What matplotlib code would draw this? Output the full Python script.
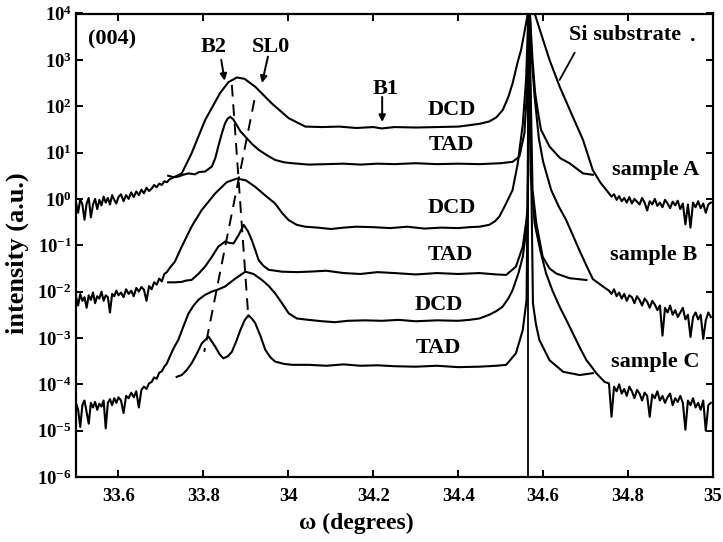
import matplotlib
matplotlib.use("Agg")
import matplotlib.pyplot as plt
import numpy as np

plt.rcParams['font.family'] = ['Liberation Serif', 'DejaVu Serif']
plt.rcParams['font.weight'] = 'bold'
plt.rcParams['mathtext.default'] = 'regular'

# ---------------- data (omega in degrees, log10 intensity) ----------------
x_left_tail = [33.500, 33.505, 33.510, 33.515, 33.520, 33.525, 33.530, 33.535, 33.540, 33.545,
               33.550, 33.555, 33.560, 33.565, 33.570, 33.575, 33.580, 33.585, 33.590, 33.595,
               33.600, 33.606, 33.612, 33.618, 33.624, 33.630, 33.636, 33.642, 33.648, 33.654,
               33.660, 33.666, 33.672, 33.678, 33.684, 33.690, 33.696, 33.702, 33.708, 33.714,
               33.720]
x_right_tail = [34.755, 34.761, 34.767, 34.773, 34.779, 34.785, 34.791, 34.797, 34.803, 34.809,
                34.815, 34.821, 34.827, 34.833, 34.839, 34.845, 34.851, 34.857, 34.863, 34.869,
                34.875, 34.881, 34.887, 34.893, 34.899, 34.905, 34.911, 34.917, 34.923, 34.929,
                34.935, 34.941, 34.947, 34.953, 34.959, 34.965, 34.971, 34.977, 34.983, 34.989,
                34.995]

# sample A, DCD
dcdA_left = [-0.08, -0.30, 0.00, -0.12, -0.45, -0.10, 0.02, -0.40, -0.12, 0.00,
             -0.22, -0.02, -0.14, 0.05, -0.08, 0.02, -0.12, 0.08, -0.02, -0.10,
             0.04, 0.10, -0.05, 0.08, 0.00, 0.14, 0.04, 0.16, 0.08, 0.20,
             0.12, 0.24, 0.17, 0.22, 0.30, 0.25, 0.33, 0.30, 0.38, 0.36, 0.42]
dcdA_core_x = [33.729, 33.749, 33.772, 33.804, 33.839, 33.859, 33.879, 33.897, 33.922, 33.961,
               34.001, 34.040, 34.080, 34.120, 34.160, 34.200, 34.220, 34.250, 34.300, 34.350,
               34.400, 34.426, 34.450, 34.473, 34.490, 34.505, 34.518, 34.528, 34.540, 34.548,
               34.556, 34.564, 34.567, 34.571, 34.580, 34.595, 34.615, 34.639, 34.670, 34.694,
               34.717, 34.735, 34.749]
dcdA_core = [0.46, 0.55, 0.98, 1.70, 2.28, 2.52, 2.62, 2.59, 2.42, 2.06,
             1.74, 1.56, 1.55, 1.56, 1.53, 1.55, 1.52, 1.55, 1.54, 1.55,
             1.56, 1.59, 1.62, 1.67, 1.76, 1.92, 2.20, 2.49, 2.95, 3.21,
             3.60, 4.00, 4.60, 4.30, 4.00, 3.57, 3.00, 2.42, 1.77, 1.27,
             0.62, 0.35, 0.19]
dcdA_right = [0.12, 0.05, 0.10, -0.02, 0.06, -0.05, 0.02, -0.08, 0.04, -0.10,
              0.00, -0.06, -0.12, 0.02, -0.08, -0.25, -0.05, -0.12, 0.00, -0.15,
              -0.08, -0.18, -0.02, -0.10, -0.20, -0.06, -0.14, -0.04, -0.22, -0.10,
              -0.55, -0.12, -0.62, -0.08, -0.18, -0.05, -0.20, -0.10, -0.30, -0.12, -0.08]

# sample A, TAD
tadA_x = [33.717, 33.729, 33.741, 33.752, 33.765, 33.780, 33.790, 33.804, 33.820, 33.828,
          33.835, 33.843, 33.851, 33.857, 33.863, 33.870, 33.878, 33.887, 33.899, 33.915,
          33.930, 33.950, 33.969, 33.990, 34.009, 34.048, 34.090, 34.130, 34.170, 34.210,
          34.250, 34.300, 34.350, 34.400, 34.450, 34.500, 34.528, 34.544, 34.556, 34.563,
          34.567, 34.575, 34.581, 34.587, 34.595, 34.615, 34.640, 34.662, 34.694, 34.717]
tadA = [0.50, 0.47, 0.48, 0.52, 0.55, 0.53, 0.58, 0.59, 0.70, 0.88,
        1.13, 1.40, 1.63, 1.73, 1.77, 1.72, 1.60, 1.46, 1.34, 1.18,
        1.06, 0.94, 0.84, 0.79, 0.77, 0.74, 0.75, 0.76, 0.74, 0.76,
        0.75, 0.77, 0.75, 0.76, 0.75, 0.77, 0.80, 0.91, 1.42, 2.50,
        4.30, 3.00, 2.30, 1.92, 1.49, 1.13, 0.88, 0.77, 0.55, 0.52]

# sample B, DCD
dcdB_left = [-2.10, -2.30, -2.05, -2.20, -2.12, -2.35, -2.08, -2.18, -2.02, -2.25,
             -2.10, -2.15, -2.00, -2.20, -2.08, -2.12, -2.45, -2.05, -2.10, -1.98,
             -2.08, -2.02, -2.12, -1.95, -2.05, -1.98, -2.10, -1.92, -2.00, -1.90,
             -1.96, -2.20, -1.88, -1.95, -1.80, -1.85, -1.72, -1.78, -1.62, -1.58, -1.50]
dcdB_core_x = [33.733, 33.749, 33.772, 33.796, 33.828, 33.855, 33.879, 33.900, 33.922, 33.945,
               33.969, 33.985, 34.001, 34.020, 34.040, 34.070, 34.100, 34.130, 34.160, 34.200,
               34.240, 34.280, 34.320, 34.360, 34.400, 34.426, 34.450, 34.473, 34.487, 34.497,
               34.510, 34.528, 34.540, 34.552, 34.560, 34.567, 34.572, 34.580, 34.590, 34.600,
               34.619, 34.636, 34.654, 34.685, 34.700, 34.717, 34.741]
dcdB_core = [-1.35, -1.03, -0.60, -0.24, 0.12, 0.36, 0.44, 0.40, 0.26, 0.08,
             -0.10, -0.30, -0.46, -0.56, -0.60, -0.62, -0.65, -0.62, -0.60, -0.61,
             -0.63, -0.60, -0.64, -0.62, -0.63, -0.61, -0.60, -0.56, -0.48, -0.38,
             -0.15, 0.19, 0.75, 1.60, 2.60, 4.50, 3.20, 2.20, 1.30, 0.80,
             0.19, -0.15, -0.45, -1.10, -1.40, -1.73, -1.89]
dcdB_right = [-1.98, -2.05, -1.95, -2.10, -2.02, -2.15, -2.05, -2.20, -2.08, -2.12,
              -2.25, -2.10, -2.18, -2.30, -2.15, -2.22, -2.35, -2.20, -2.28, -2.40,
              -2.30, -2.95, -2.35, -2.45, -2.30, -2.50, -2.40, -2.55, -2.45, -2.35,
              -2.60, -2.50, -2.98, -2.55, -2.45, -2.60, -2.50, -3.02, -2.62, -2.45, -2.55]

# sample B, TAD
tadB_x = [33.717, 33.733, 33.749, 33.760, 33.772, 33.788, 33.804, 33.820, 33.835, 33.851,
          33.861, 33.871, 33.883, 33.895, 33.905, 33.914, 33.922, 33.930, 33.942, 33.954,
          33.985, 34.020, 34.048, 34.090, 34.130, 34.170, 34.210, 34.250, 34.300, 34.350,
          34.400, 34.450, 34.490, 34.513, 34.536, 34.552, 34.560, 34.564, 34.567, 34.575,
          34.584, 34.599, 34.615, 34.631, 34.662, 34.702]
tadB = [-1.80, -1.80, -1.79, -1.76, -1.75, -1.62, -1.46, -1.25, -1.03, -0.92,
        -0.95, -0.96, -0.78, -0.56, -0.70, -0.89, -1.10, -1.32, -1.45, -1.53,
        -1.57, -1.58, -1.57, -1.55, -1.60, -1.62, -1.58, -1.60, -1.63, -1.60,
        -1.62, -1.60, -1.63, -1.64, -1.46, -1.03, -0.50, -0.17, 4.20, 0.20,
        -0.53, -1.25, -1.50, -1.61, -1.71, -1.75]

# sample C, DCD
dcdC_left = [-4.40, -4.55, -4.92, -4.45, -4.35, -4.60, -4.85, -4.40, -4.50, -4.38,
             -4.55, -4.42, -4.48, -4.35, -4.95, -4.40, -4.32, -4.45, -4.30, -4.40,
             -4.28, -4.35, -4.62, -4.25, -4.30, -4.18, -4.28, -4.15, -4.50, -4.12,
             -4.05, -4.10, -3.98, -3.95, -3.85, -3.88, -3.75, -3.72, -3.62, -3.55, -3.42]
dcdC_core_x = [33.730, 33.741, 33.753, 33.765, 33.777, 33.788, 33.804, 33.820, 33.836, 33.851,
               33.875, 33.899, 33.918, 33.938, 33.954, 33.969, 33.985, 34.001, 34.020, 34.048,
               34.080, 34.110, 34.140, 34.180, 34.220, 34.260, 34.300, 34.350, 34.400, 34.426,
               34.450, 34.473, 34.490, 34.504, 34.518, 34.528, 34.542, 34.552, 34.560, 34.564,
               34.567, 34.571, 34.580, 34.593, 34.607, 34.622, 34.639, 34.655, 34.670, 34.686,
               34.702, 34.714, 34.725, 34.745]
dcdC_core = [-3.22, -3.04, -2.75, -2.47, -2.30, -2.18, -2.07, -2.00, -1.95, -1.89,
             -1.72, -1.57, -1.62, -1.75, -1.88, -2.04, -2.25, -2.47, -2.58, -2.61,
             -2.64, -2.66, -2.63, -2.62, -2.63, -2.61, -2.64, -2.62, -2.63, -2.61,
             -2.58, -2.50, -2.42, -2.33, -2.15, -1.97, -1.60, -1.25, -0.70, -0.30,
             4.40, 0.50, -0.53, -1.10, -1.61, -1.98, -2.33, -2.62, -2.90, -3.20,
             -3.48, -3.62, -3.76, -3.95]
dcdC_right = [-3.98, -4.70, -4.05, -4.15, -4.00, -4.20, -4.10, -4.25, -4.05, -4.15,
              -4.30, -4.12, -4.20, -4.35, -4.18, -4.25, -4.70, -4.22, -4.30, -4.15,
              -4.35, -4.25, -4.40, -4.28, -4.20, -4.45, -4.30, -4.38, -4.25, -4.40,
              -4.98, -4.35, -4.45, -4.30, -4.50, -4.40, -4.55, -4.35, -5.00, -4.45, -4.40]

# sample C, TAD
tadC_x = [33.737, 33.749, 33.760, 33.772, 33.784, 33.796, 33.812, 33.828, 33.838, 33.847,
          33.857, 33.867, 33.877, 33.887, 33.897, 33.906, 33.914, 33.922, 33.934, 33.946,
          33.958, 33.969, 33.990, 34.009, 34.048, 34.090, 34.130, 34.170, 34.210, 34.250,
          34.300, 34.350, 34.400, 34.450, 34.490, 34.513, 34.536, 34.552, 34.561, 34.567,
          34.576, 34.583, 34.591, 34.615, 34.647, 34.686, 34.717]
tadC = [-3.84, -3.80, -3.70, -3.55, -3.35, -3.12, -2.97, -3.19, -3.35, -3.44,
        -3.40, -3.30, -3.08, -2.83, -2.62, -2.51, -2.58, -2.68, -2.95, -3.26,
        -3.42, -3.51, -3.56, -3.58, -3.58, -3.60, -3.57, -3.60, -3.59, -3.61,
        -3.62, -3.60, -3.63, -3.62, -3.60, -3.58, -3.33, -2.83, -2.18, 4.00,
        -2.25, -2.70, -3.04, -3.48, -3.73, -3.80, -3.76]

si_peak = 34.565
# dashed guide lines (omega, log10 I)
guide_b2_x = [33.867, 33.906]
guide_b2_L = [2.46, -2.57]
guide_sl0_x = [33.920, 33.802]
guide_sl0_L = [2.13, -3.30]

xticks = [33.6, 33.8, 34.0, 34.2, 34.4, 34.6, 34.8, 35.0]
xticklabels = ['33.6', '33.8', '34', '34.2', '34.4', '34.6', '34.8', '35']
yexp = [-6, -5, -4, -3, -2, -1, 0, 1, 2, 3, 4]

# ---------------- figure ----------------
fig = plt.figure(figsize=(7.23, 5.42), dpi=100)
ax = fig.add_axes([76/723, 65/542, 637/723, 463.5/542])

def P(x, L, **kw):
    ax.plot(x, np.power(10.0, np.asarray(L, dtype=float)), color='black', lw=1.5,
            solid_joinstyle='round', **kw)

P(x_left_tail + dcdA_core_x + x_right_tail, dcdA_left + dcdA_core + dcdA_right)
P(tadA_x, tadA)
P(x_left_tail + dcdB_core_x + x_right_tail, dcdB_left + dcdB_core + dcdB_right)
P(tadB_x, tadB)
P(x_left_tail + dcdC_core_x + x_right_tail, dcdC_left + dcdC_core + dcdC_right)
P(tadC_x, tadC)

ax.axvline(si_peak, color='black', lw=1.3)

ax.plot(guide_b2_x, np.power(10.0, guide_b2_L), color='black', lw=1.4, ls=(0, (6, 4)))
ax.plot(guide_sl0_x, np.power(10.0, guide_sl0_L), color='black', lw=1.4, ls=(0, (6, 4)))

ax.set_yscale('log')
ax.set_xlim(33.5, 35.0)
ax.set_ylim(1e-6, 1e4)
ax.set_xticks(xticks)
ax.set_xticklabels(xticklabels)
ax.set_yticks([10.0**e for e in yexp])
ax.set_yticklabels([r'$\mathregular{10^{%d}}$' % e for e in yexp])
ax.minorticks_off()
ax.tick_params(direction='in', top=True, right=True, length=5, width=1.4)
ax.tick_params(axis='x', labelsize=13.5, pad=8)
ax.tick_params(axis='y', labelsize=13.5, pad=3)
for s in ax.spines.values():
    s.set_linewidth(1.6)

fs = 16
def T(x, L, s, **kw):
    ax.text(x, 10.0**L, s, ha='center', va='center', fontsize=kw.pop('fontsize', fs),
            fontweight='bold', **kw)

T(33.585, 3.45, '(004)')
T(33.824, 3.28, 'B2')
T(33.958, 3.28, 'SL0')
T(34.230, 2.37, 'B1')
T(34.384, 1.92, 'DCD')
T(34.384, 1.16, 'TAD')
T(34.865, 0.62, 'sample A')
T(34.384, -0.20, 'DCD')
T(34.381, -1.21, 'TAD')
T(34.861, -1.21, 'sample B')
T(34.355, -2.29, 'DCD')
T(34.353, -3.22, 'TAD')
T(34.865, -3.52, 'sample C')
T(34.792, 3.54, 'Si substrate')
T(34.953, 3.52, '.')

def arrow(x0, L0, x1, L1):
    ax.annotate('', xy=(x1, 10.0**L1), xytext=(x0, 10.0**L0),
                arrowprops=dict(arrowstyle='-|>', color='black', lw=1.4,
                                mutation_scale=10, shrinkA=0, shrinkB=0))

arrow(33.842, 3.00, 33.850, 2.55)
arrow(33.952, 3.07, 33.938, 2.50)
arrow(34.221, 2.20, 34.221, 1.66)
ax.plot([34.674, 34.639], [10.0**3.15, 10.0**2.57], color='black', lw=1.3)

fig.text(17/723, 1 - 253/542, 'intensity (a.u.)', rotation=90, ha='center', va='center',
         fontsize=19, fontweight='bold')
fig.text(356/723, 1 - 523/542, 'ω (degrees)', ha='center', va='center',
         fontsize=17, fontweight='bold')

fig.savefig('out.png', dpi=100)
